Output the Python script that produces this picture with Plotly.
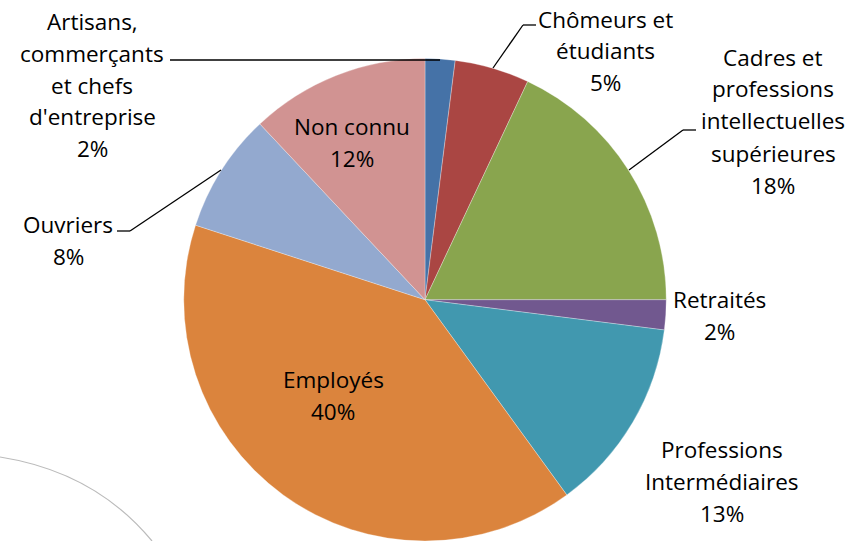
import plotly.graph_objects as go

W, H = 861, 541

categories = ["Artisans, commerçants et chefs d'entreprise", "Chômeurs et étudiants",
              "Cadres et professions intellectuelles supérieures", "Retraités",
              "Professions Intermédiaires", "Employés", "Ouvriers", "Non connu"]
values = [2, 5, 18, 2, 13, 40, 8, 12]
colors = ["#4572A7", "#AA4643", "#89A54E", "#71588F", "#4198AF", "#DB843D", "#93A9CF", "#D19392"]

label_lines = [
    ["Artisans,", "commerçants", "et chefs", "d'entreprise"],
    ["Chômeurs et", "étudiants"],
    ["Cadres et", "professions", "intellectuelles", "supérieures"],
    ["Retraités"],
    ["Professions", "Intermédiaires"],
    ["Employés"],
    ["Ouvriers"],
    ["Non connu"],
]
# label block positions (screen pixel: center x, first-line y)
label_pos = [(92, 21), (605, 19), (773, 57), (719, 299), (722, 449), (333, 379), (68, 224), (352, 127)]
LINE = 32

def px(x):
    return x / W

def py(y):
    return 1 - y / H

top, left, right, bottom = 58.5, 183.5, 666.5, 541
fig = go.Figure(go.Pie(
    labels=categories, values=values, sort=False, direction="clockwise", rotation=0,
    marker=dict(colors=colors, line=dict(color="white", width=0.3)),
    textinfo="none", hoverinfo="label+percent", showlegend=False,
    domain=dict(x=[px(left), px(right)], y=[max(0, py(bottom)), py(top)]),
))

total = sum(values)
anns = []
for lines, (cx, y0), v in zip(label_lines, label_pos, values):
    allines = lines + [f"{round(100 * v / total)}%"]
    for i, t in enumerate(allines):
        anns.append(dict(x=px(cx), y=py(y0 + i * LINE), xref="paper", yref="paper",
                         text=t, showarrow=False, xanchor="center", yanchor="middle",
                         font=dict(family="Open Sans, sans-serif", size=22.5, color="#000")))

def seg(x0, y0, x1, y1):
    return dict(type="line", xref="paper", yref="paper", x0=px(x0), y0=py(y0), x1=px(x1), y1=py(y1),
                line=dict(color="black", width=1.3))

shapes = [
    seg(170, 60, 440, 60),
    seg(536, 25, 523, 25), seg(523, 25, 493, 68),
    seg(696, 130, 683, 130), seg(683, 130, 629, 170),
    seg(117, 231, 130, 231), seg(130, 231, 221, 170),
    dict(type="path", xref="paper", yref="paper",
         path=f"M {px(0)} {py(457)} Q {px(95)} {py(472)} {px(152)} {py(541)}",
         line=dict(color="#BBBBBB", width=1.2)),
]

fig.update_layout(width=W, height=H, margin=dict(l=0, r=0, t=0, b=0),
                  paper_bgcolor="white", plot_bgcolor="white",
                  annotations=anns, shapes=shapes)
fig.write_html("out.html", config={"displayModeBar": False},
               post_script="document.body.style.margin='0';")
